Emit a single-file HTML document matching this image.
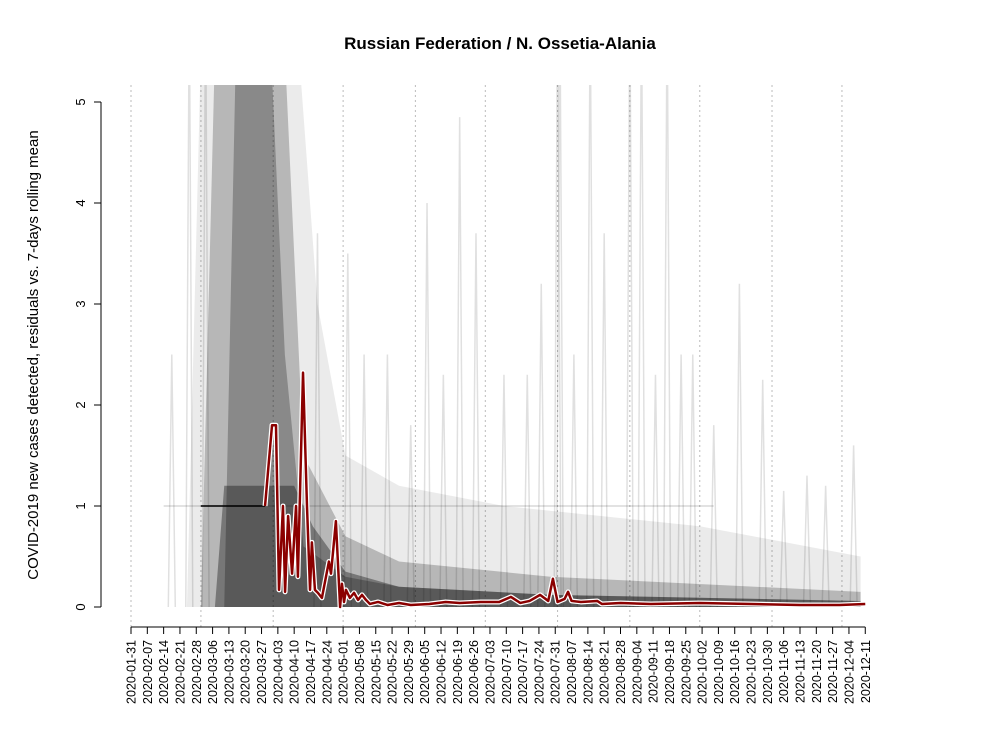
<!DOCTYPE html>
<html><head><meta charset="utf-8"><style>
body{margin:0;background:#fff;}
svg{display:block;font-family:"Liberation Sans",sans-serif;}
</style></head><body>
<svg id="chart" width="1000" height="750">
<text x="500" y="49" text-anchor="middle" font-size="17" font-weight="bold">Russian Federation / N. Ossetia-Alania</text>
<text transform="translate(38,355) rotate(-90)" text-anchor="middle" font-size="15">COVID-2019 new cases detected, residuals vs. 7-days rolling mean</text>
<defs><clipPath id="pc"><rect x="101" y="85" width="799" height="542"/></clipPath></defs>
<g id="grid"></g><g id="bg" clip-path="url(#pc)"></g><g id="red"></g><g id="axes"></g>
</svg>
<script>
const ticksY=[0,1,2,3,4,5];
const redDays=[57.5,60.5,62.2,63.5,65.2,66.1,67.4,69.1,70.8,71.6,73.8,75.5,76.8,77.6,78.9,80.2,81.9,84.9,85.8,87.9,89.7,90.5,91.4,92.2,93.9,95.7,97.4,99.1,100.8,102.5,106,110,115,120,128,135,141,150,158,163,167,171,175.5,179,181,183,186,187.5,189,193,200,202,210,223,244,266,287,304,315];
const redVals=[1.0,1.8,1.8,0.17,1.0,0.15,0.9,0.33,1.0,0.3,2.32,1.0,0.17,0.64,0.17,0.14,0.09,0.45,0.33,0.85,0.0,0.23,0.05,0.17,0.09,0.14,0.07,0.12,0.07,0.03,0.05,0.02,0.04,0.02,0.03,0.05,0.04,0.05,0.05,0.1,0.04,0.06,0.12,0.06,0.28,0.05,0.08,0.15,0.06,0.05,0.06,0.03,0.04,0.03,0.04,0.03,0.02,0.02,0.03];
const envADays=[24,30,55,72,80,92,115,160,244,313];
const envAVals=[0,5.5,5.5,5.5,3,1.5,1.2,1.0,0.8,0.5];
const envBDays=[30,36,45,66,74,92,115,180,313];
const envBVals=[0,5.5,5.5,5.5,1.5,0.7,0.45,0.3,0.15];
const envCDays=[40,45,60,66,74,92,115,180,313];
const envCVals=[0,5.5,5.5,2.5,0.6,0.3,0.2,0.12,0.06];
const envDDays=[36,40,70,78,92,115,180,313];
const envDVals=[0,1.2,1.2,0.8,0.35,0.2,0.12,0.06];
const spikeDays=[17.5,25,32,80,93,127,141,148,176,183,184,197,203,214,219,230,236,241,261,271,280,310,100,110,120,134,160,170,190,225,250,290,298];
const spikeVals=[2.5,6,6,3.7,3.5,4.0,4.85,3.7,3.2,6,6,6,3.7,6,6,6,2.5,2.5,3.2,2.25,1.15,1.6,2.5,2.5,1.8,2.3,2.3,2.3,2.5,2.3,1.8,1.3,1.2];
const tickLabels=[];
(function(){const d0=new Date(Date.UTC(2020,0,31));for(let i=0;i<=45;i++){const d=new Date(d0.getTime()+i*7*864e5);tickLabels.push(d.toISOString().slice(0,10));}})();
const monthDays=[0,30,61,91,122,152,183,214,244,275,305];
const X=d=>131+d*2.331, Y=v=>607-v*101;
const NS="http://www.w3.org/2000/svg";
function mk(t,a,p){const e=document.createElementNS(NS,t);for(const k in a)e.setAttribute(k,a[k]);p.appendChild(e);return e;}
const grid=document.getElementById('grid'),bg=document.getElementById('bg'),red=document.getElementById('red'),axes=document.getElementById('axes');
monthDays.forEach(d=>{const l=mk('line',{x1:X(d),x2:X(d),y1:85,y2:627,stroke:'#bbb','stroke-dasharray':'2,3'},grid);

});
function env(days,vals,op){let p=`M${X(days[0])},${Y(0)} `;days.forEach((d,i)=>p+=`L${X(d)},${Y(vals[i])} `);p+=`L${X(days[days.length-1])},${Y(0)} Z`;
const e=mk('path',{d:p,fill:'#000','fill-opacity':op},bg);

}
env(envADays,envAVals,0.08);env(envBDays,envBVals,0.22);env(envCDays,envCVals,0.25);env(envDDays,envDVals,0.35);
let hl=mk('line',{x1:X(14),x2:X(250),y1:Y(1),y2:Y(1),stroke:'#000','stroke-opacity':0.15,'stroke-width':1.5},bg);


let hd=mk('line',{x1:X(30),x2:X(57.5),y1:Y(1),y2:Y(1),stroke:'#000','stroke-width':1.5},bg);


spikeDays.forEach((d,i)=>{const p=`M${X(d-1.5)},${Y(0)} L${X(d)},${Y(spikeVals[i])} L${X(d+1.5)},${Y(0)}`;
const s=mk('path',{d:p,fill:'none',stroke:'#000','stroke-opacity':0.12,'stroke-width':1.5},bg);

});
const pts=redDays.map((d,i)=>X(d)+','+Y(redVals[i])).join(' ');
let w=mk('polyline',{points:pts,fill:'none',stroke:'#fff','stroke-width':5,'stroke-linejoin':'round'},red);


let r=mk('polyline',{points:pts,fill:'none',stroke:'#8b0000','stroke-width':2.5,'stroke-linejoin':'round'},red);


let ya=mk('line',{x1:101,x2:101,y1:Y(0),y2:Y(5),stroke:'#000'},axes);


ticksY.forEach(v=>{const t=mk('line',{x1:94,x2:101,y1:Y(v),y2:Y(v),stroke:'#000'},axes);


const tx=mk('text',{transform:`translate(85,${Y(v)}) rotate(-90)`,'text-anchor':'middle','font-size':13},axes);tx.textContent=v;

});
let xa=mk('line',{x1:X(0),x2:X(315),y1:627,y2:627,stroke:'#000'},axes);


tickLabels.forEach((s,i)=>{const x=X(i*7);const t=mk('line',{x1:x,x2:x,y1:627,y2:634,stroke:'#000'},axes);


const tx=mk('text',{transform:`translate(${x+4.5},640) rotate(-90)`,'text-anchor':'end','font-size':12.5},axes);tx.textContent=s;

});
</script>
</body></html>
